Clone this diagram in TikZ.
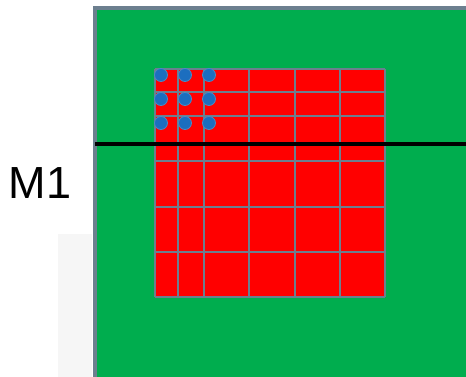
\documentclass[tikz,border=0pt]{standalone}
\usepackage{fontspec}
\setmainfont{Liberation Sans}
\definecolor{boardgreen}{HTML}{00AD4E}
\definecolor{edgegray}{HTML}{6C7F8F}
\definecolor{cellred}{HTML}{FF0000}
\definecolor{dotblue}{HTML}{1C6EBF}
\definecolor{dotedge}{HTML}{4C8AC4}
\definecolor{faint}{HTML}{F6F6F6}
\tikzset{
  gridline/.style={draw=edgegray, line width=2pt},
  via/.style={circle, fill=dotblue, draw=dotedge, line width=0.8pt, minimum size=13pt, inner sep=0pt},
  cutline/.style={draw=black, line width=4.5pt},
  label/.style={font=\fontsize{45}{45}\selectfont, inner sep=0pt, anchor=center}
}
\begin{document}
\begin{tikzpicture}[x=1pt,y=-1pt]
\useasboundingbox (0,0) rectangle (466,377);
% faint background remnant
\fill[faint] (58,234) rectangle (92,377);
% board
\fill[boardgreen] (95,8) rectangle (470,380);
\draw[edgegray, line width=4pt] (95,380) -- (95,8.5) -- (470,8.5);
% red grid
\fill[cellred] (155,69) rectangle (385,297);
\foreach \x in {155,178,204,249,295,340,385}
  \draw[gridline] (\x,69) -- (\x,297);
\foreach \y in {69,92,116,161,207,252,297}
  \draw[gridline] (155,\y) -- (385,\y);
% vias
\foreach \i/\x in {1/161,2/185,3/209}
  \foreach \j/\y in {1/75,2/99,3/123}
    \node[via] (v\i\j) at (\x,\y) {};
% cut line
\coordinate (cutL) at (95,144);
\coordinate (cutR) at (466,144);
\draw[cutline] (cutL) -- (cutR);
% label
\node[label] (m1) at (40,183) {M1};
\end{tikzpicture}
\end{document}
